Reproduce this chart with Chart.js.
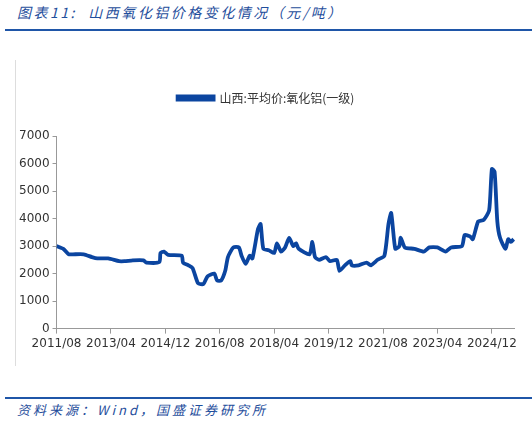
<!DOCTYPE html>
<html>
<head>
<meta charset="utf-8">
<script src="https://cdn.jsdelivr.net/npm/chart.js@4"></script>
<style>
body{margin:0;width:532px;height:423px;background:#fff;position:relative;font-family:"Noto Sans CJK SC",sans-serif;overflow:hidden}
#title{position:absolute;left:17px;top:2px;font-size:14px;color:#1f4e9c;font-style:italic;letter-spacing:2.5px}
#top{position:absolute;left:5px;top:29px;width:527px;height:2px;background:#1f56a8}
#box{position:absolute;left:15px;top:60px;width:1px;height:306px;background:#ddd}
#bot{position:absolute;left:5px;top:397px;width:527px;height:2px;background:#1f56a8}
#src{position:absolute;left:17px;top:400px;font-size:13px;color:#1f4e9c;font-style:italic;letter-spacing:3px}
#wrap{position:absolute;left:16px;top:70px;width:504px;height:284px}
</style>
</head>
<body>
<div id="title">图表11:&nbsp; 山西氧化铝价格变化情况（元/吨）</div>
<div id="top"></div>
<div id="box"></div>
<div id="wrap"><canvas id="c"></canvas></div>
<div id="bot"></div>
<div id="src">资料来源：Wind，国盛证券研究所</div>
<script>
// months counted from 2011/08
var months = [0,2.5,4.5,6,10,13,15,19,23,25,28,32,33,37.8,38.2,39.5,41,46,46.5,48.5,50,52,54,55.5,58,59,60.5,62,63,65,67,68,69.5,71,72,74,75,76,78,80,81,82.5,84,85.5,87,88,89,93,94,95,96.5,99,100.5,103,104,106,108,108.5,111,114,115.5,118,120.5,122,123,124.5,126,126.5,128,131.5,135,137,140,143,145,149,150,152,153,155,157,159,160,161,162,163,165,166,167,168];
var prices = [3000,2900,2700,2700,2700,2600,2550,2550,2450,2450,2480,2480,2400,2420,2750,2800,2680,2650,2400,2300,2200,1650,1620,1900,2000,1750,1750,2100,2600,2950,2950,2650,2350,2650,2550,3600,3800,2900,2850,2750,3100,2800,2950,3300,3000,3100,2900,2700,3150,2600,2500,2600,2450,2500,2100,2300,2450,2300,2300,2400,2300,2500,2650,3800,4200,2900,3000,3300,2950,2900,2800,2950,2950,2800,2950,3000,3400,3350,3250,3900,3950,4300,5800,5700,3900,3300,2900,3250,3150,3250];
var tickLabels = ["2011/08","2013/04","2014/12","2016/08","2018/04","2019/12","2021/08","2023/04","2024/12"];

var pts = [];
for (var i = 0; i < months.length; i++) pts.push({x: months[i], y: prices[i]});

// extra room under the legend
var legendGap = {
	id: 'legendGap',
	beforeInit: function(chart) {
		var fit = chart.legend.fit;
		chart.legend.fit = function() {
			fit.bind(chart.legend)();
			this.height += 22;
		};
	}
};

new Chart(document.getElementById("c"), {
	type: 'line',
	data: {
		datasets: [{
			label: '山西:平均价:氧化铝(一级)',
			data: pts,
			borderColor: '#0b45a0',
			backgroundColor: '#0b45a0',
			borderWidth: 3.8,
			pointRadius: 0,
			tension: 0.2
		}]
	},
	options: {
		responsive: true,
		maintainAspectRatio: false,
		animation: false,
		layout: {padding: {right: 4}},
		plugins: {
			legend: {
				labels: {boxWidth: 36, boxHeight: 3, color: '#333', font: {size: 12, family: 'Noto Sans CJK SC'}, padding: 22}
			},
			tooltip: {enabled: false}
		},
		scales: {
			x: {
				type: 'linear', min: 0, max: 168.5,
				afterBuildTicks: function(ax) {
					ax.ticks = tickLabels.map(function(t, i) { return {value: i * 20}; });
				},
				ticks: {
					autoSkip: false, maxRotation: 0, color: '#333', font: {size: 12, family: 'DejaVu Sans'},
					callback: function(v) { return tickLabels[Math.round(v / 20)]; }
				},
				grid: {drawOnChartArea: false, tickLength: 5, color: '#999'},
				border: {color: '#999'}
			},
			y: {
				min: 0, max: 7000,
				ticks: {stepSize: 1000, color: '#333', font: {size: 12, family: 'DejaVu Sans'},
					callback: function(v) { return String(v); }},
				grid: {drawOnChartArea: false, tickLength: 4, color: '#999'},
				border: {color: '#999'}
			}
		}
	},
	plugins: [legendGap]
});
</script>
</body>
</html>
